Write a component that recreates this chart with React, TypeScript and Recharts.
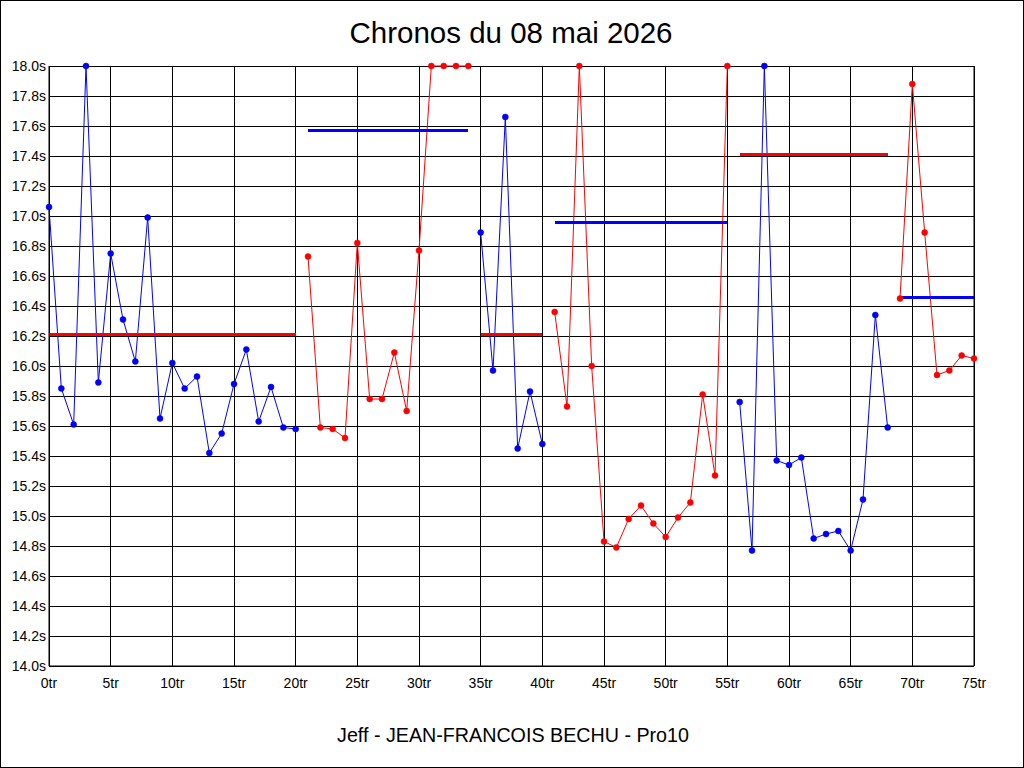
import { ComposedChart, Line, XAxis, YAxis, CartesianGrid } from 'recharts'

const BLUE = '#0000ff'
const RED = '#ff0000'
const FONT = '"Liberation Sans", Arial, sans-serif'

// lap times (s), one array per stint, first lap of each stint alongside
const stint1Blue = [17.06, 15.85, 15.61, 18.0, 15.89, 16.75, 16.31, 16.03, 16.99, 15.65, 16.02,
  15.85, 15.93, 15.42, 15.55, 15.88, 16.11, 15.63, 15.86, 15.59, 15.58]
const stint2Red = [16.73, 15.59, 15.58, 15.52, 16.82, 15.78, 15.78, 16.09, 15.7, 16.77, 18.0, 18.0, 18.0, 18.0]
const stint3Blue = [16.89, 15.97, 17.66, 15.45, 15.83, 15.48]
const stint4Red = [16.36, 15.73, 18.0, 16.0, 14.83, 14.79, 14.98, 15.07, 14.95, 14.86, 14.99, 15.09, 15.81, 15.27, 18.0]
const stint5Blue = [15.76, 14.77, 18.0, 15.37, 15.34, 15.39, 14.85, 14.88, 14.9, 14.77, 15.11, 16.34, 15.59]
const stint6Red = [16.45, 17.88, 16.89, 15.94, 15.97, 16.07, 16.05]

const stints = [
  { start: 0, color: 'blue', times: stint1Blue, mean: 16.21 },
  { start: 21, color: 'red', times: stint2Red, mean: 17.57 },
  { start: 35, color: 'blue', times: stint3Blue, mean: 16.21 },
  { start: 41, color: 'red', times: stint4Red, mean: 16.96 },
  { start: 56, color: 'blue', times: stint5Blue, mean: 17.41 },
  { start: 69, color: 'red', times: stint6Red, mean: 16.46 },
]

const xTicks = [0, 5, 10, 15, 20, 25, 30, 35, 40, 45, 50, 55, 60, 65, 70, 75]
const yTicks = [14.0, 14.2, 14.4, 14.6, 14.8, 15.0, 15.2, 15.4, 15.6, 15.8, 16.0, 16.2, 16.4, 16.6,
  16.8, 17.0, 17.2, 17.4, 17.6, 17.8, 18.0]

type Row = { lap: number; blue: number | null; red: number | null; blueMean: number | null; redMean: number | null }

const rows: Row[] = []
for (const s of stints) {
  s.times.forEach((t, i) => {
    const isBlue = s.color === 'blue'
    rows.push({
      lap: s.start + i,
      blue: isBlue ? t : null,
      red: isBlue ? null : t,
      // the stint mean is drawn in the opposite colour
      redMean: isBlue ? s.mean : null,
      blueMean: isBlue ? null : s.mean,
    })
  })
}

const tickStyle = { fill: '#000', fontSize: 14, fontFamily: FONT }

export default function App() {
  return (
    <div style={{ position: 'absolute', left: 0, top: 0, width: 1024, height: 768, background: '#fff' }}>
      <ComposedChart width={1024} height={768} data={rows}
        margin={{ top: 66, right: 0, bottom: 72, left: 0 }}>
        <CartesianGrid stroke="#000" strokeOpacity={1} shapeRendering="crispEdges" yAxisId="l" />
        <XAxis dataKey="lap" type="number" domain={[0, 75]} ticks={xTicks} height={30}
          tickFormatter={(v: number) => `${v}tr`} tick={tickStyle} tickLine={false}
          tickSize={12} tickMargin={0} interval={0}
          axisLine={{ stroke: '#000' }} />
        <YAxis yAxisId="l" domain={[14, 18]} ticks={yTicks} width={49} interval={0}
          tickFormatter={(v: number) => `${v.toFixed(1)}s`} tick={tickStyle} tickLine={false}
          tickSize={3} tickMargin={0} axisLine={{ stroke: '#000' }} />
        <YAxis yAxisId="r" orientation="right" domain={[14, 18]} ticks={yTicks} width={50} interval={0}
          tickFormatter={(v: number) => `${v.toFixed(1)}s`} tick={tickStyle} tickLine={false}
          tickSize={4} tickMargin={0} axisLine={{ stroke: '#000' }} />
        <Line yAxisId="l" dataKey="blue" stroke={BLUE} strokeWidth={1} type="linear"
          dot={{ r: 3, fill: BLUE, stroke: BLUE, strokeWidth: 0.5, clipDot: false }} activeDot={false}
          connectNulls={false} isAnimationActive={false} />
        <Line yAxisId="l" dataKey="red" stroke={RED} strokeWidth={1} type="linear"
          dot={{ r: 3, fill: RED, stroke: RED, strokeWidth: 0.5, clipDot: false }} activeDot={false}
          connectNulls={false} isAnimationActive={false} />
        <Line yAxisId="l" dataKey="redMean" stroke={RED} strokeWidth={3} type="linear"
          shapeRendering="crispEdges" dot={false} activeDot={false} connectNulls={false}
          isAnimationActive={false} />
        <Line yAxisId="l" dataKey="blueMean" stroke={BLUE} strokeWidth={3} type="linear"
          shapeRendering="crispEdges" dot={false} activeDot={false} connectNulls={false}
          isAnimationActive={false} />
      </ComposedChart>
      <svg width={1024} height={768} style={{ position: 'absolute', left: 0, top: 0, pointerEvents: 'none' }}>
        <rect x={0.5} y={0.5} width={1023} height={767} fill="none" stroke="#000" />
        <text x={511} y={43} textAnchor="middle" fontFamily={FONT} fontSize={29.5} fill="#000">
          Chronos du 08 mai 2026
        </text>
        <text x={513} y={742} textAnchor="middle" fontFamily={FONT} fontSize={19.7} fill="#000">
          Jeff - JEAN-FRANCOIS BECHU - Pro10
        </text>
      </svg>
    </div>
  )
}
